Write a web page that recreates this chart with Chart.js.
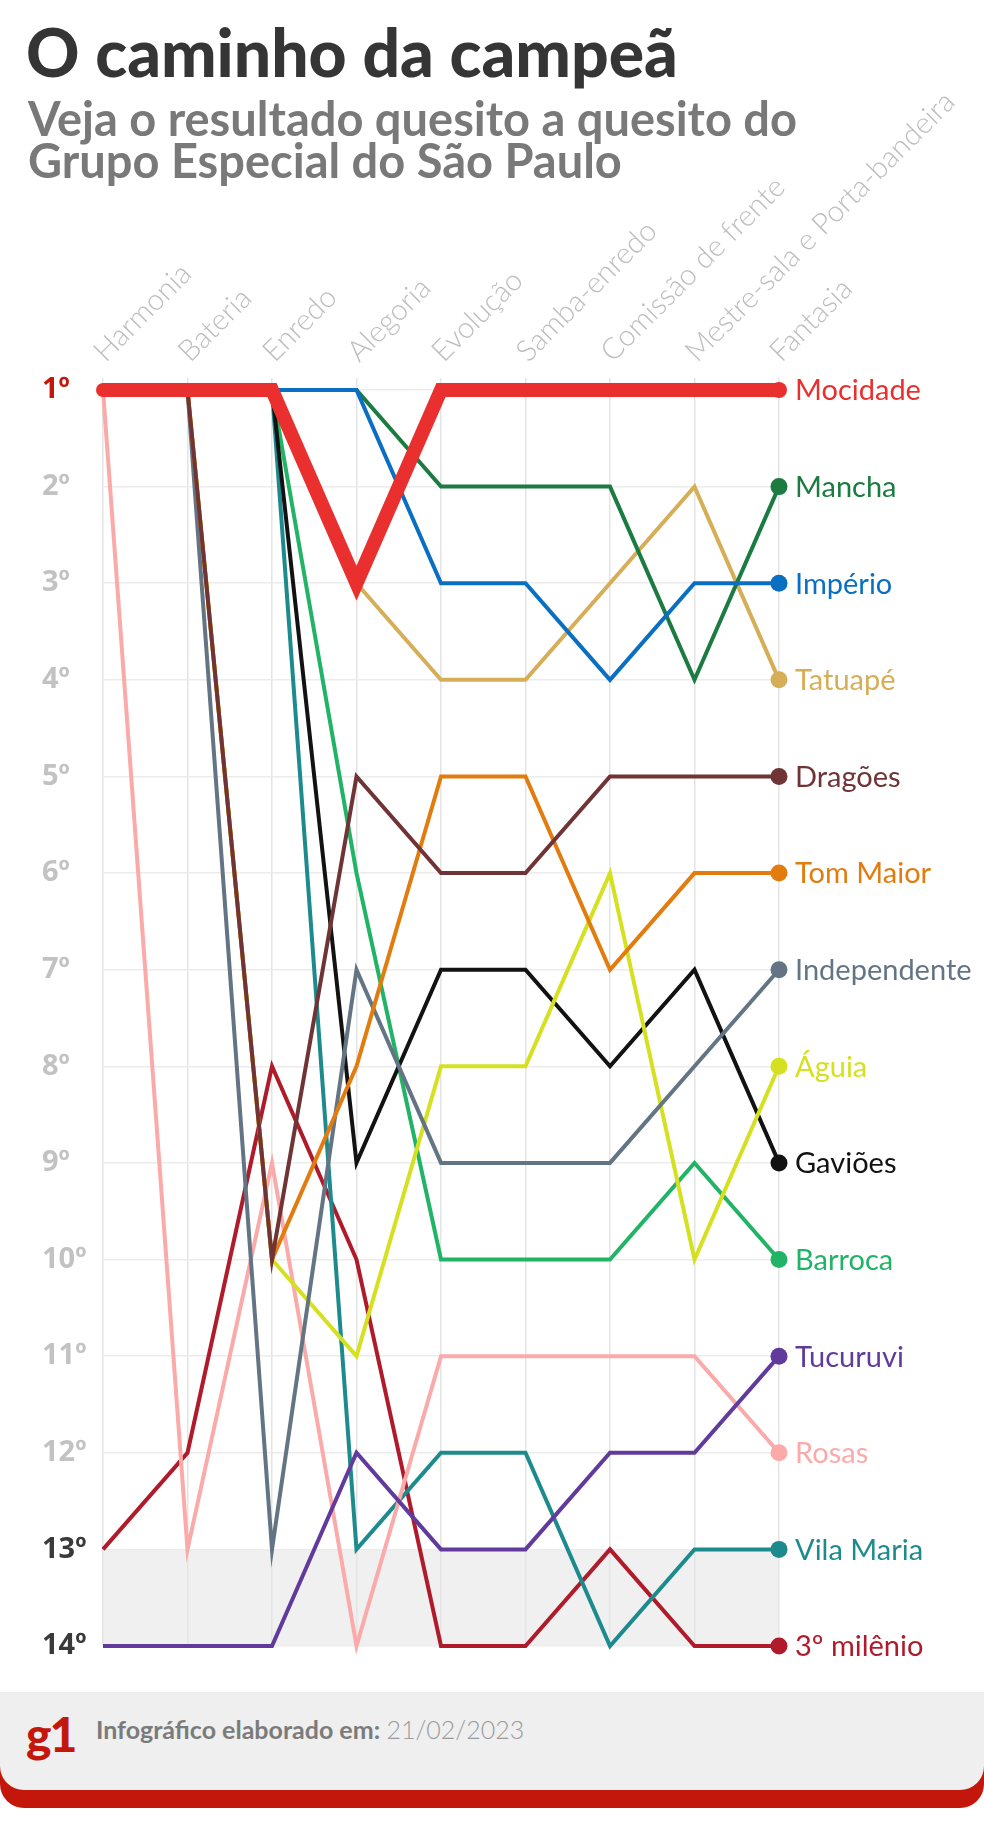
<!DOCTYPE html>
<html lang="pt-BR">
<head>
    <meta charset="utf-8" />
    <title>O caminho da campeã</title>
    <script src="https://cdn.jsdelivr.net/npm/chart.js@4.4.1/dist/chart.umd.min.js"></script>
    <style>
        body { margin: 0; background: #fff; width: 984px; height: 1825px; position: relative; overflow: hidden; font-family: Lato, "Open Sans", sans-serif; }
        #title { position: absolute; left: 26px; top: 12px; font-size: 66px; line-height: 1.2; font-weight: 900; color: #353535; white-space: nowrap; z-index: 2; }
        #sub { position: absolute; left: 28px; top: 97px; font-size: 47px; line-height: 42px; font-weight: 700; color: #797979; white-space: nowrap; z-index: 2; }
        #wrap { position: absolute; left: 0; top: 0; width: 984px; height: 1680px; }
        #footer { position: absolute; left: 0; top: 1692px; width: 984px; height: 116px; background: #c4170c; border-radius: 0 0 24px 24px; }
        #footer .band { position: absolute; left: 0; top: 0; width: 984px; height: 98px; background: #efefef; border-radius: 0 0 24px 24px; }
        #g1 { position: absolute; left: 26px; top: 13px; font-size: 48px; line-height: 1.2; font-weight: 900; color: #c4170c; letter-spacing: -2px; }
        #credit { position: absolute; left: 96px; top: 23px; font-size: 25px; line-height: 29px; color: #7b7b7b; white-space: nowrap; }
        #credit b { font-weight: 700; }
        #credit span { font-weight: 300; color: #9a9a9a; }
    </style>
</head>

<body>
    <div id="title">O caminho da campeã</div>
    <div id="sub">Veja o resultado quesito a quesito do<br>Grupo Especial do São Paulo</div>
    <div id="wrap"><canvas id="chart" width="984" height="1680"></canvas></div>
    <div id="footer">
        <div class="band">
            <div id="g1">g1</div>
            <div id="credit"><b>Infográfico elaborado em:</b> <span>21/02/2023</span></div>
        </div>
    </div>

    <script>
        // quesitos (colunas)
        const categories = ['Harmonia', 'Bateria', 'Enredo', 'Alegoria', 'Evolução', 'Samba-enredo',
            'Comissão de frente', 'Mestre-sala e Porta-bandeira', 'Fantasia'];
        const rankTicks = ['1º', '2º', '3º', '4º', '5º', '6º', '7º', '8º', '9º', '10º', '11º', '12º', '13º', '14º'];

        // posição de cada escola em cada quesito
        const mocidade = [1, 1, 1, 3, 1, 1, 1, 1, 1];
        const mancha = [1, 1, 1, 1, 2, 2, 2, 4, 2];
        const imperio = [1, 1, 1, 1, 3, 3, 4, 3, 3];
        const tatuape = [1, 1, 1, 3, 4, 4, 3, 2, 4];
        const dragoes = [1, 1, 10, 5, 6, 6, 5, 5, 5];
        const tomMaior = [1, 1, 10, 8, 5, 5, 7, 6, 6];
        const independente = [1, 1, 13, 7, 9, 9, 9, 8, 7];
        const aguia = [1, 1, 10, 11, 8, 8, 6, 10, 8];
        const gavioes = [1, 1, 1, 9, 7, 7, 8, 7, 9];
        const barroca = [1, 1, 1, 6, 10, 10, 10, 9, 10];
        const tucuruvi = [14, 14, 14, 12, 13, 13, 12, 12, 11];
        const rosas = [1, 13, 9, 14, 11, 11, 11, 11, 12];
        const vilaMaria = [1, 1, 1, 13, 12, 12, 14, 13, 13];
        const milenio = [13, 12, 8, 10, 14, 14, 13, 14, 14];

        const schools = ['Mocidade', 'Mancha', 'Império', 'Tatuapé', 'Dragões', 'Tom Maior', 'Independente',
            'Águia', 'Gaviões', 'Barroca', 'Tucuruvi', 'Rosas', 'Vila Maria', '3º milênio'];
        const series = [mocidade, mancha, imperio, tatuape, dragoes, tomMaior, independente,
            aguia, gavioes, barroca, tucuruvi, rosas, vilaMaria, milenio];
        const colors = ['#e9302f', '#1b7b41', '#0a6fc2', '#d6ae57', '#703436', '#e27c0f', '#637584',
            '#d5e120', '#121212', '#21b466', '#613b9c', '#fbaaaa', '#1d8b8e', '#b01b2b'];
        // Império fica por cima da Mancha
        const drawOrder = [0, 2, 1, 3, 4, 5, 6, 7, 8, 9, 10, 11, 12, 13];

        const last = categories.length - 1;

        const datasets = series.map(function (data, i) {
            const main = i === 0;
            return {
                label: schools[i],
                data: data,
                borderColor: colors[i],
                backgroundColor: colors[i],
                borderWidth: main ? 14 : 4,
                borderCapStyle: main ? 'round' : 'butt',
                order: drawOrder[i],
                clip: false,
                pointRadius: function (ctx) { return ctx.dataIndex === last ? (main ? 8 : 8.5) : 0; },
                pointBorderWidth: 0,
                pointHoverRadius: 0
            };
        });

        // faixa cinza do rebaixamento (13º a 14º)
        const relegationBand = {
            id: 'relegationBand',
            beforeDraw(chart) {
                const { ctx, chartArea, scales } = chart;
                const top = scales.y.getPixelForValue(13);
                const bottom = scales.y.getPixelForValue(14);
                ctx.save();
                ctx.fillStyle = '#f0f0f0';
                ctx.fillRect(chartArea.left, top, chartArea.right - chartArea.left, bottom - top);
                ctx.restore();
            }
        };

        // nome da escola no fim de cada linha
        const endLabels = {
            id: 'endLabels',
            afterDatasetsDraw(chart) {
                const ctx = chart.ctx;
                ctx.save();
                ctx.font = '400 29px Lato, "Open Sans", sans-serif';
                ctx.textBaseline = 'middle';
                ctx.textAlign = 'left';
                chart.data.datasets.forEach(function (ds, i) {
                    const pt = chart.getDatasetMeta(i).data[last];
                    ctx.fillStyle = ds.borderColor;
                    ctx.fillText(ds.label, pt.x + 16, pt.y + 1);
                });
                ctx.restore();
            }
        };

        new Chart(document.getElementById('chart'), {
            type: 'line',
            data: { labels: categories, datasets: datasets },
            options: {
                responsive: false,
                animation: false,
                layout: { padding: { left: 42, right: 205, top: 0, bottom: 34 } },
                plugins: { legend: { display: false }, tooltip: { enabled: false } },
                scales: {
                    x: {
                        position: 'top',
                        offset: false,
                        grid: { color: '#e4e4e4', lineWidth: 1.5, tickLength: 12 },
                        border: { display: false },
                        ticks: {
                            autoSkip: false,
                            minRotation: 45,
                            maxRotation: 45,
                            padding: 9,
                            labelOffset: 21,
                            color: '#bdbdbd',
                            font: { family: 'Lato', size: 29.5, weight: '300' }
                        },
                        afterFit: function (scale) { scale.height = 390; }
                    },
                    y: {
                        type: 'linear',
                        reverse: true,
                        min: 1,
                        max: 14,
                        grid: { color: '#ececec', lineWidth: 1.5, drawTicks: false },
                        border: { display: false },
                        ticks: {
                            stepSize: 1,
                            crossAlign: 'far',
                            callback: function (v) { return rankTicks[v - 1]; },
                            color: function (ctx) {
                                const v = ctx.tick.value;
                                if (v === 1) return '#c4170c';
                                if (v >= 13) return '#3a3a3a';
                                return '#c2c2c2';
                            },
                            font: { family: 'Noto Sans', size: 29, weight: 'bold' }
                        },
                        afterFit: function (scale) { scale.width = 61; }
                    }
                }
            },
            plugins: [relegationBand, endLabels]
        });
    </script>
</body>

</html>
